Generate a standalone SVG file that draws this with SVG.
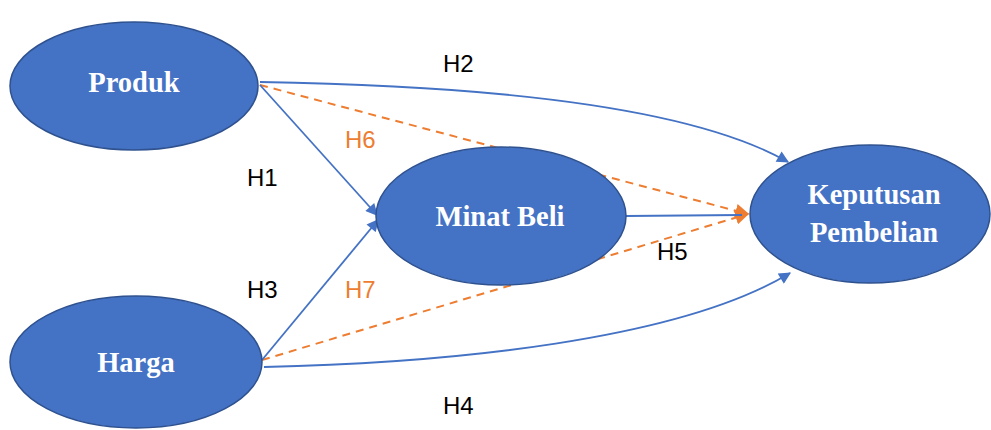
<svg xmlns="http://www.w3.org/2000/svg" width="991" height="430" viewBox="0 0 991 430">
  <style>
    .node ellipse { fill: #4472C4; stroke: #2F528F; stroke-width: 1.5; }
    .node text { fill: #ffffff; font-family: "Liberation Serif", "Times New Roman", serif; font-weight: bold; font-size: 28.5px; text-anchor: middle; }
    .solid { fill: none; stroke: #4472C4; stroke-width: 1.8; }
    .dash { fill: none; stroke: #ED7D31; stroke-width: 2; stroke-dasharray: 8 6; }
    .lbl { font-family: "Liberation Sans", Arial, sans-serif; font-size: 24px; fill: #000000; }
    .lbl.o { fill: #ED7D31; }
  </style>
  <defs>
    <marker id="arrB" viewBox="0 0 10 10" refX="9" refY="5" markerWidth="14" markerHeight="12" markerUnits="userSpaceOnUse" orient="auto">
      <path d="M0,0 L10,5 L0,10 z" fill="#4472C4"/>
    </marker>
    <marker id="arrO" viewBox="0 0 10 10" refX="9" refY="5" markerWidth="14" markerHeight="14" markerUnits="userSpaceOnUse" orient="auto">
      <path d="M0,0 L10,5 L0,10 z" fill="#ED7D31"/>
    </marker>
  </defs>

  <g id="connectors">
    <!-- mediated paths (dashed, pass behind Minat Beli) -->
    <line class="dash" x1="260" y1="85" x2="748" y2="214" marker-end="url(#arrO)"/>
    <line class="dash" x1="262" y1="360" x2="748" y2="214" marker-end="url(#arrO)"/>
    <!-- direct paths -->
    <line class="solid" x1="260" y1="85" x2="377" y2="215" marker-end="url(#arrB)"/>
    <line class="solid" x1="262" y1="360" x2="378" y2="220" marker-end="url(#arrB)"/>
    <path class="solid" d="M260,82 C450,85 680,100 788,162" marker-end="url(#arrB)"/>
    <path class="solid" d="M264,367 C450,363 680,340 790,273" marker-end="url(#arrB)"/>
    <line class="solid" x1="626" y1="216" x2="742" y2="215"/>
  </g>

  <g id="produk" class="node">
    <ellipse cx="134" cy="86" rx="124" ry="64"/>
    <text x="134" y="92">Produk</text>
  </g>
  <g id="harga" class="node">
    <ellipse cx="136" cy="362" rx="126" ry="66"/>
    <text x="136" y="372">Harga</text>
  </g>
  <g id="minat-beli" class="node">
    <ellipse cx="501" cy="216" rx="125" ry="69"/>
    <text x="500" y="226">Minat Beli</text>
  </g>
  <g id="keputusan-pembelian" class="node">
    <ellipse cx="870" cy="214" rx="120" ry="69"/>
    <text x="874" y="204">Keputusan</text>
    <text x="874" y="242">Pembelian</text>
  </g>

  <g id="labels">
    <text class="lbl" x="443" y="72">H2</text>
    <text class="lbl" x="247" y="186">H1</text>
    <text class="lbl" x="247" y="298">H3</text>
    <text class="lbl" x="443" y="414">H4</text>
    <text class="lbl" x="657" y="260">H5</text>
    <text class="lbl o" x="345" y="148">H6</text>
    <text class="lbl o" x="345" y="298">H7</text>
  </g>
</svg>
